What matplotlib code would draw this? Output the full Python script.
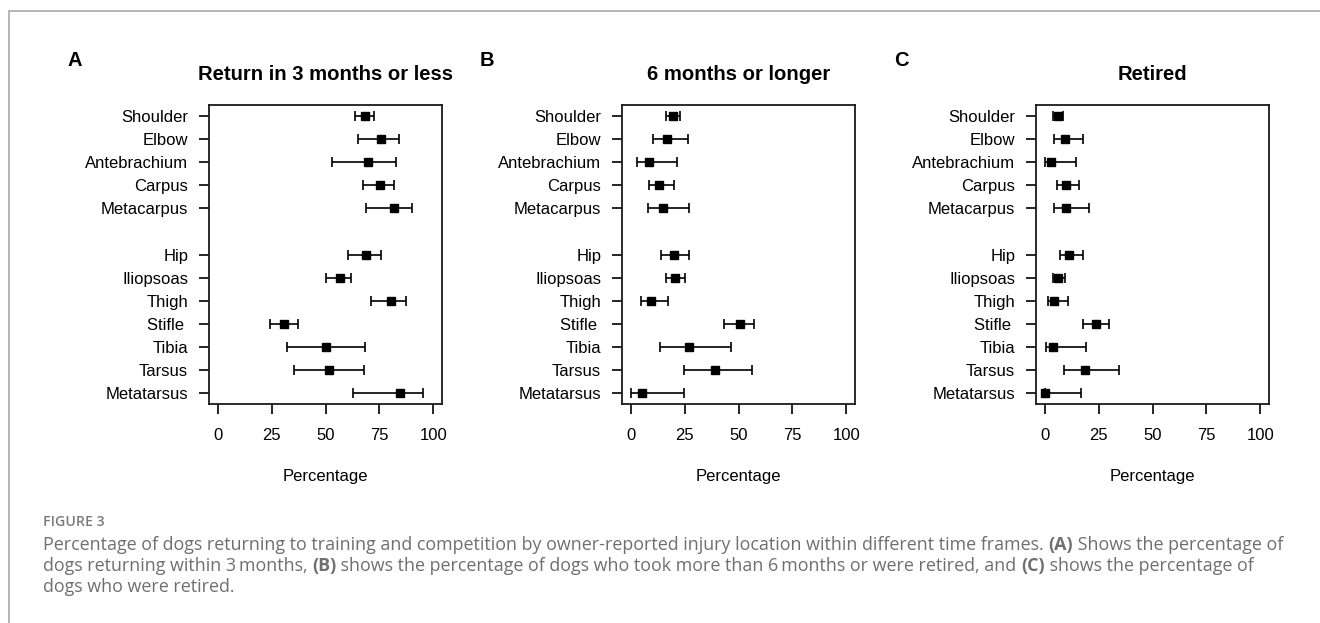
import matplotlib
matplotlib.use("Agg")
import matplotlib.pyplot as plt
from matplotlib.lines import Line2D
import numpy as np

plt.rcParams['font.family'] = ['Liberation Sans', 'DejaVu Sans']

# Injury locations (forelimb block, then hindlimb block)
locations = ["Shoulder", "Elbow", "Antebrachium", "Carpus", "Metacarpus",
             "Hip", "Iliopsoas", "Thigh", "Stifle ", "Tibia", "Tarsus", "Metatarsus"]
row_pos = [1, 2, 3, 4, 5, 7, 8, 9, 10, 11, 12, 13]

# Panel A: return in 3 months or less (estimate, lower CI, upper CI)
a_est = [68.1, 75.7, 69.8, 75.3, 81.6, 68.8, 56.5, 80.5, 30.6, 50.3, 51.7, 84.7]
a_low = [63.5, 64.9, 53.2, 67.4, 68.9, 60.5, 50.4, 71.2, 24.4, 32.1, 35.2, 62.7]
a_high = [72.3, 84.1, 82.5, 81.9, 90.2, 75.9, 61.8, 87.2, 37.4, 68.3, 68.0, 95.0]

# Panel B: 6 months or longer
b_est = [19.6, 17.0, 8.3, 13.3, 15.1, 20.1, 20.4, 9.4, 50.5, 26.9, 39.2, 5.2]
b_low = [16.4, 10.2, 2.9, 8.3, 7.9, 13.9, 16.4, 4.9, 43.5, 13.4, 24.8, 0.2]
b_high = [23.1, 26.5, 21.6, 20.1, 27.0, 27.2, 25.3, 17.1, 57.3, 46.5, 56.2, 24.7]

# Panel C: retired
c_est = [6.0, 9.3, 2.9, 9.7, 9.7, 11.3, 6.0, 4.3, 23.6, 3.9, 18.5, 0.2]
c_low = [4.0, 4.5, 0.2, 5.7, 4.2, 6.9, 4.0, 1.7, 17.9, 0.5, 8.8, 0.0]
c_high = [8.3, 17.9, 14.5, 16.0, 20.4, 17.6, 9.6, 10.8, 29.9, 19.1, 34.6, 16.8]

x_ticks = [0, 25, 50, 75, 100]
panel_titles = ["Return in 3 months or less", "6 months or longer", "Retired"]
panel_letters = ["A", "B", "C"]
x_label = "Percentage"

W, H = 1320, 623
fig = plt.figure(figsize=(W / 100, H / 100), dpi=100)

# frame lines around the figure block
border = "#b4b4b4"
fig.add_artist(Line2D([9 / W, 9 / W], [0, 1 - 11 / H], transform=fig.transFigure,
                      color=border, lw=1.4))
fig.add_artist(Line2D([9 / W, 1], [1 - 11 / H, 1 - 11 / H], transform=fig.transFigure,
                      color=border, lw=1.4))

panel_left_px = [209, 622, 1036]
letter_x_px = [75, 487, 901]
box_w, box_top, box_bot = 233, 105, 404

series = [(a_est, a_low, a_high), (b_est, b_low, b_high), (c_est, c_low, c_high)]

for i, (est, lo, hi) in enumerate(series):
    left = panel_left_px[i]
    ax = fig.add_axes([left / W, 1 - box_bot / H, box_w / W, (box_bot - box_top) / H])
    est = np.array(est)
    err = [est - np.array(lo), np.array(hi) - est]
    ax.errorbar(est, row_pos, xerr=err, fmt='s', color='black', ms=6.2,
                capsize=3.6, elinewidth=1.2, capthick=1.2)
    ax.set_xlim(-4, 104)
    ax.set_ylim(13.48, 0.52)
    ax.set_yticks(row_pos)
    ax.set_yticklabels(locations)
    ax.set_xticks(x_ticks)
    ax.set_xticklabels([str(t) for t in x_ticks])
    ax.tick_params(axis='y', direction='out', length=7.2, width=1.2, pad=7.8,
                   labelsize=12, colors='black')
    ax.tick_params(axis='x', direction='out', length=7.5, width=1.2, pad=9.5,
                   labelsize=12, colors='black')
    for sp in ax.spines.values():
        sp.set_linewidth(1.3)
        sp.set_color('#1a1a1a')
    ax.text(0.5, 1 + (box_top - 75) / (box_bot - box_top), panel_titles[i],
            transform=ax.transAxes, ha='center', va='center',
            fontsize=14.6, fontweight='bold')
    ax.text(0.5, -(477 - box_bot) / (box_bot - box_top), x_label,
            transform=ax.transAxes, ha='center', va='center', fontsize=12)
    fig.text(letter_x_px[i] / W, 1 - 60 / H, panel_letters[i], ha='center', va='center',
             fontsize=14.5, fontweight='bold')

# caption below the panels
cap_color = "#6f6f6f"
cap_family = ['Open Sans', 'DejaVu Sans']
fig.text(43 / W, 1 - 522 / H, "FIGURE 3", ha='left', va='center', fontsize=10.2,
         color="#7a7a7a", family=cap_family, fontweight='semibold')

caption_lines = [
    [("Percentage of dogs returning to training and competition by owner-reported injury "
      "location within different time frames. ", 'normal'), ("(A)", 'bold'),
     (" Shows the percentage of", 'normal')],
    [("dogs returning within 3\u2009months, ", 'normal'), ("(B)", 'bold'),
     (" shows the percentage of dogs who took more than 6\u2009months or were retired, and ",
      'normal'), ("(C)", 'bold'), (" shows the percentage of", 'normal')],
    [("dogs who were retired.", 'normal')],
]
line_y_px = [545, 566, 587]
cap_size = 12.9

renderer = fig.canvas.get_renderer()
for pieces, ypx in zip(caption_lines, line_y_px):
    x = 43
    for txt, weight in pieces:
        t = fig.text(x / W, 1 - ypx / H, txt, ha='left', va='center', fontsize=cap_size,
                     color=cap_color, family=cap_family, fontweight=weight)
        bb = t.get_window_extent(renderer)
        x += bb.width

fig.savefig("out.png", dpi=100)
